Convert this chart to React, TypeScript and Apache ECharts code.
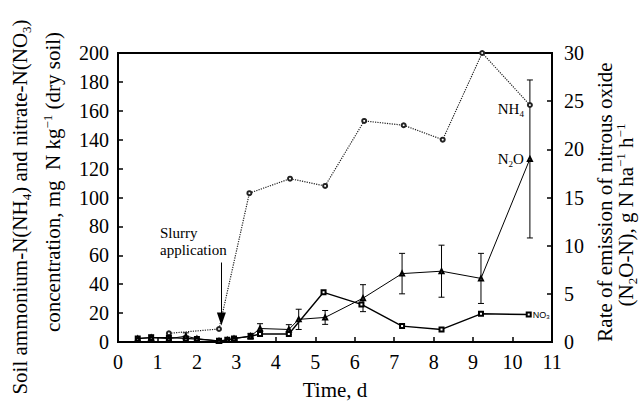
import React, { useEffect, useRef } from "react";
import * as echarts from "echarts";

// ---- data ----
const nh4Days = [1.29, 2.56, 3.33, 4.36, 5.25, 6.24, 7.24, 8.23, 9.23, 10.44];
const nh4Values = [6, 9, 103, 113, 108, 153, 150, 140, 200, 164];

const no3Days = [0.5, 0.84, 1.29, 1.72, 2.0, 2.56, 2.77, 2.94, 3.36, 3.6, 4.33, 5.21, 6.17, 7.2, 8.2, 9.2, 10.41];
const no3Values = [2.5, 3, 3, 2.5, 2, 0.8, 1.5, 2.5, 4, 5.5, 5.5, 34.4, 26, 11, 8.7, 19.5, 19];

const n2oDays = [0.5, 0.84, 1.29, 1.72, 2.0, 2.56, 2.77, 2.94, 3.36, 3.6, 4.33, 4.58, 5.25, 6.21, 7.2, 8.2, 9.2, 10.44];
const n2oValues = [0.35, 0.45, 0.35, 0.6, 0.35, 0.1, 0.2, 0.35, 0.6, 1.4, 1.3, 2.35, 2.55, 4.55, 7.1, 7.35, 6.6, 19.0];
const n2oErrors = [0, 0.3, 0, 0.35, 0, 0, 0, 0, 0.3, 0.5, 0.5, 1.05, 0.72, 1.4, 2.1, 2.7, 2.6, 8.2];

const slurryDay = 2.62;
const arrowFrom = 55;
const arrowTo = 16;

const FONT = "Liberation Serif";

const richMain = (size: number) => ({
  a: { fontFamily: FONT, fontSize: size, color: "#000", lineHeight: size + 4, verticalAlign: "middle" },
  sub: { fontFamily: FONT, fontSize: Math.round(size * 0.62), color: "#000", lineHeight: size + 4, verticalAlign: "bottom" },
  sup: { fontFamily: FONT, fontSize: Math.round(size * 0.62), color: "#000", lineHeight: size + 4, verticalAlign: "top" },
});

export default function App() {
  const ref = useRef<HTMLDivElement>(null);
  useEffect(() => {
    if (!ref.current) return;
    const chart = echarts.init(ref.current, undefined, { renderer: "svg" });

    const nh4Data: any[] = nh4Days.map((d, i) => [d, nh4Values[i]]);
    const lastNh4 = nh4Data.length - 1;
    nh4Data[lastNh4] = {
      value: nh4Data[lastNh4],
      label: {
        show: true,
        position: "left",
        distance: 3,
        offset: [0, 4],
        formatter: "{a|NH}{sub|4}",
        rich: richMain(15),
      },
    };

    const no3Data: any[] = no3Days.map((d, i) => [d, no3Values[i]]);
    const lastNo3 = no3Data.length - 1;
    no3Data[lastNo3] = {
      value: no3Data[lastNo3],
      label: {
        show: true,
        position: "right",
        distance: 1,
        formatter: "{a|NO}{sub|3}",
        rich: {
          a: { fontFamily: "Liberation Sans", fontSize: 9, color: "#000", lineHeight: 11, verticalAlign: "middle" },
          sub: { fontFamily: "Liberation Sans", fontSize: 6, color: "#000", lineHeight: 11, verticalAlign: "bottom" },
        },
      },
    };

    const n2oData: any[] = n2oDays.map((d, i) => [d, n2oValues[i]]);
    const lastN2o = n2oData.length - 1;
    n2oData[lastN2o] = {
      value: n2oData[lastN2o],
      label: {
        show: true,
        position: "left",
        distance: 3,
        formatter: "{a|N}{sub|2}{a|O}",
        rich: richMain(15),
      },
    };

    const errData = n2oDays
      .map((d, i) => [d, n2oValues[i], n2oErrors[i]])
      .filter((r) => r[2] > 0);

    const labelStyle = { color: "#000", fontFamily: FONT, fontSize: 20 };
    const axisCommon = {
      axisLine: { show: true, lineStyle: { color: "#000", width: 2 } },
      axisTick: { show: true, inside: true, length: 5, lineStyle: { color: "#000", width: 1.5 } },
      splitLine: { show: false },
    };

    chart.setOption({
      animation: false,
      backgroundColor: "#fff",
      textStyle: { fontFamily: FONT },
      grid: {
        left: 118,
        right: 92,
        top: 53,
        bottom: 63,
        show: true,
        borderColor: "#000",
        borderWidth: 2,
        backgroundColor: "transparent",
      },
      xAxis: {
        type: "value",
        min: 0,
        max: 11,
        interval: 1,
        ...axisCommon,
        axisLabel: { ...labelStyle, margin: 10 },
        name: "Time, d",
        nameLocation: "middle",
        nameGap: 37,
        nameTextStyle: { color: "#000", fontFamily: FONT, fontSize: 21 },
      },
      yAxis: [
        {
          type: "value",
          min: 0,
          max: 200,
          interval: 20,
          position: "left",
          ...axisCommon,
          axisLabel: { ...labelStyle, margin: 9 },
        },
        {
          type: "value",
          min: 0,
          max: 30,
          interval: 5,
          position: "right",
          ...axisCommon,
          axisLabel: { ...labelStyle, margin: 12 },
        },
      ],
      graphic: [
        {
          type: "text",
          x: 20,
          y: 207,
          rotation: Math.PI / 2,
          style: {
            text: "{a|Soil ammonium-N(NH}{sub|4}{a|) and nitrate-N(NO}{sub|3}{a|)}",
            rich: richMain(21),
            align: "center",
            verticalAlign: "middle",
          },
        },
        {
          type: "text",
          x: 53,
          y: 182,
          rotation: Math.PI / 2,
          style: {
            text: "{a|concentration, mg  N kg}{sup|−1}{a| (dry soil)}",
            rich: richMain(21),
            align: "center",
            verticalAlign: "middle",
          },
        },
        {
          type: "text",
          x: 605,
          y: 202,
          rotation: Math.PI / 2,
          style: {
            text: "{a|Rate of emission of nitrous oxide}",
            rich: richMain(21),
            align: "center",
            verticalAlign: "middle",
          },
        },
        {
          type: "text",
          x: 626,
          y: 215,
          rotation: Math.PI / 2,
          style: {
            text: "{a|(N}{sub|2}{a|O-N), g N ha}{sup|−1}{a| h}{sup|−1}",
            rich: richMain(21),
            align: "center",
            verticalAlign: "middle",
          },
        },
        {
          type: "text",
          x: 160,
          y: 224,
          style: {
            text: "Slurry\napplication",
            fontFamily: FONT,
            fontSize: 15,
            lineHeight: 17,
            fill: "#000",
            align: "left",
            verticalAlign: "top",
          },
        },
      ],
      series: [
        {
          name: "NH4",
          type: "line",
          yAxisIndex: 0,
          data: nh4Data,
          symbol: "emptyCircle",
          symbolSize: 4,
          lineStyle: { color: "#222", width: 1.2, type: "dotted" },
          itemStyle: { color: "#222", borderWidth: 1 },
          markLine: {
            silent: true,
            symbol: ["none", "triangle"],
            symbolSize: [9, 13],
            label: { show: false },
            lineStyle: { color: "#000", width: 1, type: "solid" },
            data: [
              [
                { coord: [slurryDay, arrowFrom] },
                { coord: [slurryDay, arrowTo] },
              ],
            ],
          },
          z: 3,
        },
        {
          name: "NO3",
          type: "line",
          yAxisIndex: 0,
          data: no3Data,
          symbol: "emptyRect",
          symbolSize: 4,
          lineStyle: { color: "#000", width: 1.4 },
          itemStyle: { color: "#000", borderWidth: 0.9 },
          z: 4,
        },
        {
          name: "N2O",
          type: "line",
          yAxisIndex: 1,
          data: n2oData,
          symbol: "emptyTriangle",
          symbolSize: 4,
          lineStyle: { color: "#000", width: 1 },
          itemStyle: { color: "#000", borderWidth: 0.8 },
          z: 5,
        },
        {
          name: "N2O error",
          type: "custom",
          yAxisIndex: 1,
          data: errData,
          encode: { x: 0, y: 1 },
          renderItem: (params: any, api: any) => {
            const x = api.value(0);
            const y = api.value(1);
            const e = api.value(2);
            const top = api.coord([x, y + e]);
            const bot = api.coord([x, Math.max(0, y - e)]);
            const cap = 3;
            const st = { stroke: "#000", lineWidth: 1 };
            return {
              type: "group",
              children: [
                { type: "line", shape: { x1: top[0], y1: top[1], x2: bot[0], y2: bot[1] }, style: st },
                { type: "line", shape: { x1: top[0] - cap, y1: top[1], x2: top[0] + cap, y2: top[1] }, style: st },
                { type: "line", shape: { x1: bot[0] - cap, y1: bot[1], x2: bot[0] + cap, y2: bot[1] }, style: st },
              ],
            };
          },
          z: 2,
        },
      ],
    });

    return () => chart.dispose();
  }, []);

  return <div ref={ref} style={{ width: 644, height: 405, position: "absolute", left: 0, top: 0 }} />;
}
